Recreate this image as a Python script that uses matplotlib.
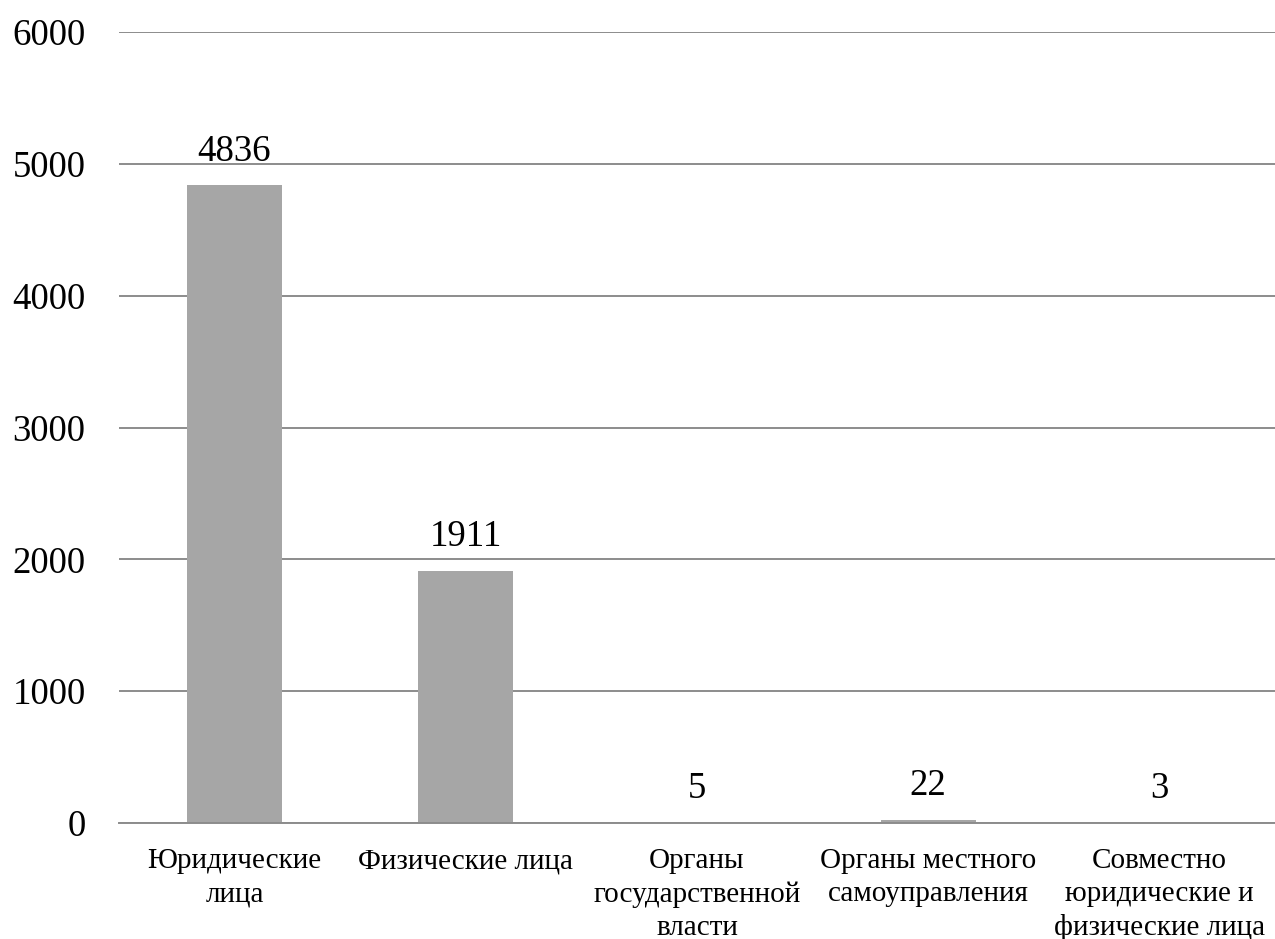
import numpy as np
import matplotlib.pyplot as plt

categories = ['Юридические\nлица', 'Физические лица', 'Органы\nгосударственной\nвласти',
              'Органы местного\nсамоуправления', 'Совместно\nюридические и\nфизические лица']
values = [4836, 1911, 5, 22, 3]

plt.rcParams['font.family'] = ['Liberation Serif', 'DejaVu Serif']

fig = plt.figure(figsize=(12.75, 9.39), dpi=100)
ax = fig.add_axes([0.0933, 0.1235, 0.9067, 0.8424])

x = np.arange(len(categories))
bars = ax.bar(x, values, width=0.41, color='#a6a6a6', zorder=2)

for xi, v in zip(x, values):
    ax.annotate(str(v), (xi, v), xytext=(0, 12), textcoords='offset points',
                ha='center', va='bottom', fontsize=26.5)

ax.set_xlim(-0.5, len(categories) - 0.5)
ax.set_ylim(0, 6000)
ax.set_yticks(np.arange(0, 6001, 1000))
ax.yaxis.grid(True, color='#8c8c8c', linewidth=1.4, zorder=0)
ax.set_axisbelow(True)

ax.set_xticks(x)
ax.set_xticklabels(categories, fontsize=21, linespacing=1.35)
ax.tick_params(axis='x', length=0, pad=18)
ax.tick_params(axis='y', length=0, pad=24, labelsize=26.5)

for s in ['top', 'right', 'left']:
    ax.spines[s].set_visible(False)
ax.spines['bottom'].set_color('#8c8c8c')
ax.spines['bottom'].set_linewidth(1.4)

fig.savefig('out.png', dpi=100)
